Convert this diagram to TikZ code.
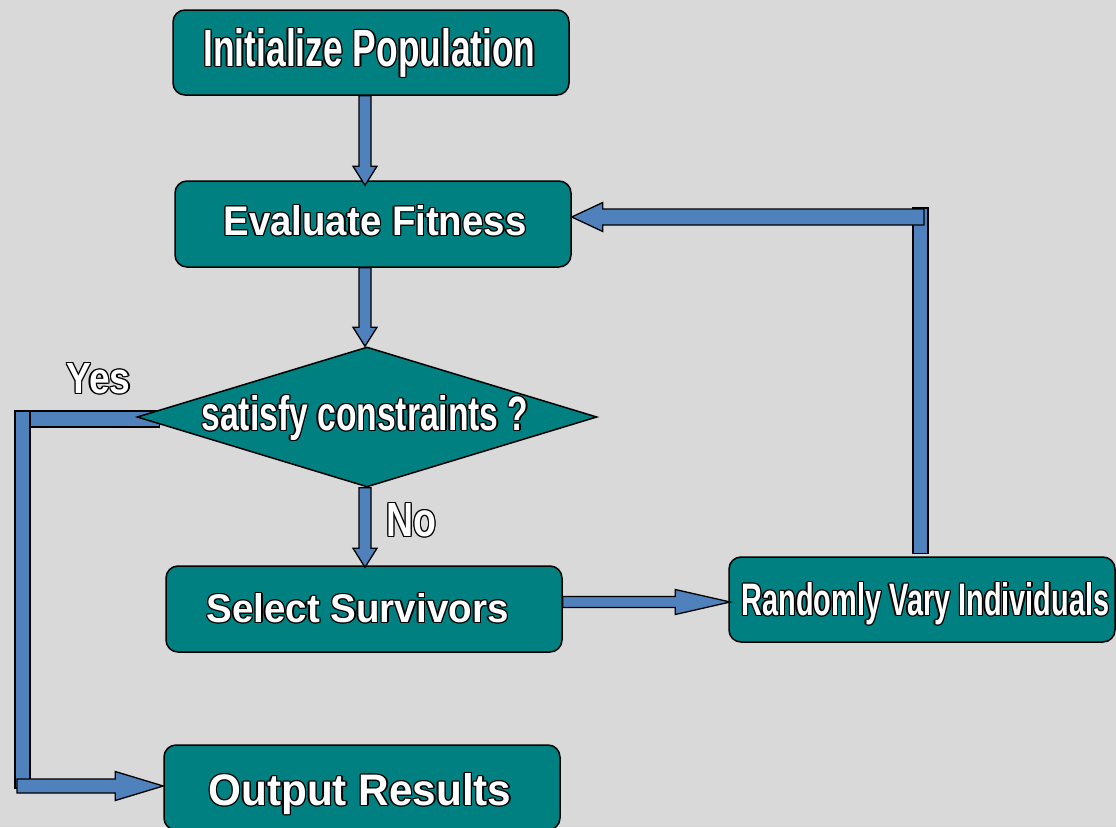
\documentclass[tikz,border=0pt]{standalone}
\usepackage{fontspec}
\setmainfont{Liberation Sans}
\usetikzlibrary{calc,shapes.geometric}
\definecolor{bggray}{RGB}{217,217,217}
\definecolor{boxteal}{RGB}{0,128,128}
\definecolor{arrblue}{RGB}{79,129,189}
\pgfdeclarelayer{back}
\pgfsetlayers{back,main}
\newbox\lblmeas
% #1 name, #2 base-left position, #3 width, #4 glyph height, #5 text
\newcommand\olabel[5]{%
 \pgfinterruptpicture
   \global\setbox\lblmeas\hbox{\fontsize{100pt}{100pt}\selectfont\bfseries #5}%
 \endpgfinterruptpicture
 \pgfmathsetmacro\lblfs{100*#4/\the\ht\lblmeas}%
 \pgfmathsetmacro\lblr{#3/\the\wd\lblmeas}%
 \pgfmathsetmacro\lblst{\lblr*100/\lblfs}%
 \edef\lblfont{\noexpand\fontspec[FakeStretch=\lblst]{Liberation Sans}\noexpand\fontsize{\lblfs pt}{\lblfs pt}\noexpand\selectfont\noexpand\bfseries}%
 \foreach \dx/\dy [count=\k] in {1.4/0,-1.4/0,0/1.4,0/-1.4,1/1,1/-1,-1/1,-1/-1}
   {\node[txt, text=black] (#1-o\k) at ($#2+(\dx,\dy)$) {\lblfont #5};}
 \node[txt, text=white] (#1) at #2 {\lblfont #5};}
% down arrow: #1 start, #2 tip, #3 shaft half, #4 head half, #5 head length
\newcommand\darrow[5]{\draw[blk] ($(#2|-#1)+(-#3,0)$) -- ($(#2)+(-#3,-#5)$) -- ($(#2)+(-#4,-#5)$) -- (#2) -- ($(#2)+(#4,-#5)$) -- ($(#2)+(#3,-#5)$) -- ($(#2|-#1)+(#3,0)$) -- cycle;}
\newcommand\rarrow[5]{\draw[blk] ($(#1|-#2)+(0,-#3)$) -- ($(#2)+(-#5,-#3)$) -- ($(#2)+(-#5,-#4)$) -- (#2) -- ($(#2)+(-#5,#4)$) -- ($(#2)+(-#5,#3)$) -- ($(#1|-#2)+(0,#3)$) -- cycle;}
\newcommand\larrow[5]{\draw[blk] ($(#1|-#2)+(0,-#3)$) -- ($(#2)+(#5,-#3)$) -- ($(#2)+(#5,-#4)$) -- (#2) -- ($(#2)+(#5,#4)$) -- ($(#2)+(#5,#3)$) -- ($(#1|-#2)+(0,#3)$) -- cycle;}
\tikzset{
  box/.style={draw=black, line width=1.5pt, fill=boxteal, rounded corners=12pt,
    minimum width=396pt, minimum height=85pt, inner sep=0pt},
  dec/.style={draw=black, line width=1.5pt, fill=boxteal, diamond, inner sep=0pt,
    minimum width=460pt, minimum height=140pt},
  blk/.style={draw=black, line width=1.3pt, fill=arrblue, line join=miter},
  txt/.style={anchor=base west, inner sep=0pt, outer sep=0pt}
}
\begin{document}
\begin{tikzpicture}[x=1pt,y=-1pt]
\useasboundingbox (0,0) rectangle (1116,827);
% boxes
\node[box] (init) at (371,52.5) {};
\node[box, minimum height=86pt] (eval) at (373,224) {};
\node[dec] (dia) at (367,417) {};
\node[box, minimum height=86pt] (sel) at (364,609) {};
\node[box, minimum width=386pt] (rand) at (922,599.5) {};
\node[box] (out) at (362,787.5) {};
% labels
\olabel{initT}{(203.5,66.5)}{332}{38}{Initialize Population}
\olabel{evalT}{(223.5,235.5)}{303}{30}{Evaluate Fitness}
\olabel{diaT}{(201.5,430.5)}{327}{35}{satisfy constraints ?}
\olabel{selT}{(206.5,622.5)}{302}{29}{Select Survivors}
\olabel{randT}{(741.5,615.5)}{368}{33}{Randomly Vary Individuals}
\olabel{outT}{(208.5,805.5)}{303}{32}{Output Results}
\olabel{yesT}{(66.5,393.5)}{64}{30}{Yes}
\olabel{noT}{(386.5,536.5)}{50}{33}{No}
% helper coordinates
\coordinate (axA) at (365,0);
\coordinate (ayR) at (0,602);
\coordinate (lc) at (920.5,208);
\coordinate (lh) at (924,217);
\coordinate (yc) at (22.5,419);
\coordinate (yb) at (22.5,786);
\coordinate (t1) at ($(eval.north -| axA)+(0,5)$);
\coordinate (s1) at (init.south -| axA);
\coordinate (s2) at (eval.south -| axA);
\coordinate (t2) at (dia.north -| axA);
\coordinate (s3) at (dia.south -| axA);
\coordinate (t3) at ($(sel.north -| axA)+(0,2)$);
\coordinate (s4) at (sel.east |- ayR);
\coordinate (t4) at ($(rand.west |- ayR)+(2,0)$);
\coordinate (t5) at (eval.east |- lh);
\coordinate (s6) at ($(yb)+(-5.5,0)$);
\coordinate (t6) at (out.west |- yb);
% arrows on top
\darrow{s1}{t1}{6}{12}{19}
\darrow{s2}{t2}{6}{12}{19}
\darrow{s3}{t3}{6}{12}{19}
\rarrow{s4}{t4}{5.5}{12.5}{55}
\draw[blk] ($(rand.north -| lc)+(-7.5,-3)$) rectangle ($(lc)+(7.5,0)$);
\larrow{lh}{t5}{8}{14.5}{31}
% background and Yes connector
\begin{pgfonlayer}{back}
\fill[bggray] (0,0) rectangle (1116,827);
\draw[blk] ($(yc)+(-7.5,-8)$) rectangle ($(dia.west |- yc)+(23,8)$);
\draw[blk] ($(yc)+(-7.5,-8)$) rectangle ($(yb)+(7.5,2)$);
\rarrow{s6}{t6}{7}{14.5}{48}
\end{pgfonlayer}
\end{tikzpicture}
\end{document}
